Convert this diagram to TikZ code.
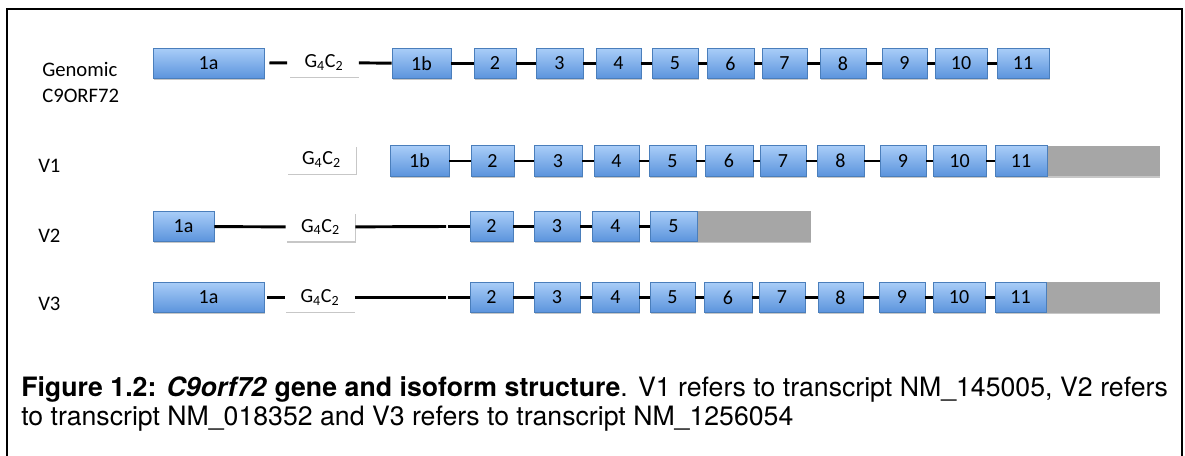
\documentclass[tikz,border=0pt]{standalone}
\usepackage{fontspec}
\setsansfont{TeX Gyre Heros}
\newfontfamily\calibri{Carlito}
\usetikzlibrary{shadows}
\definecolor{exontop}{HTML}{A9CDF8}
\definecolor{exonbot}{HTML}{5A93DC}
\definecolor{exonrim}{HTML}{4A7EBB}
\definecolor{utrgray}{HTML}{A6A6A6}
\tikzset{
	boxshadow/.style={drop shadow={shadow xshift=0.5pt,shadow yshift=-1.2pt,opacity=0.22,fill=black}},
	exon/.style={draw=exonrim,line width=0.6pt,top color=exontop,bottom color=exonbot,inner sep=0pt,minimum height=23pt,font=\calibri\fontsize{15}{17}\selectfont,boxshadow},
	repeatbox/.style={fill=white,inner sep=0pt,minimum height=21.5pt,minimum width=52pt,font=\calibri\fontsize{15}{17}\selectfont,boxshadow},
	utr/.style={fill=utrgray,inner sep=0pt,minimum height=23pt,boxshadow},
	intron/.style={line width=2.2pt},
	rowlabel/.style={anchor=base west,inner sep=0pt,font=\calibri\fontsize{15.5}{19.5}\selectfont,align=left}
}
\begin{document}
\begin{tikzpicture}[x=0.75pt,y=-0.75pt]
		\useasboundingbox (0,0) rectangle (1185,456) ;
		\draw[line width=0.8pt] (7,456) -- (7,9) -- (1182,9) -- (1182,456) ;
		% row labels
		\node[rowlabel] (lgen) at (42,103) {Genomic\\C9ORF72} ;
		\node[rowlabel] (lv1) at (38,173) {V1} ;
		\node[rowlabel] (lv2) at (38,242) {V2} ;
		\node[rowlabel] (lv3) at (38,310) {V3} ;
		% genomic
		\node[repeatbox] (gG) at (324,62.5) {G\textsubscript{4}C\textsubscript{2}} ;
		\foreach \Ex/\Xl/\Xr in {1a/153/264,1b/392/451,2/474/516,3/536/583,4/596/641,5/652/698,6/707/754,7/762/807,8/820/866,9/882/927,10/935/987,11/997/1049}
			\node[exon,minimum width=(\Xr-\Xl)*0.75pt] (g\Ex) at ({(\Xl+\Xr)/2},63.5) {\Ex} ;
		\draw[intron,shorten <=3.75pt,shorten >=1.5pt] (g1a) -- (gG) ;
		\draw[intron] (gG) -- (g1b) ;
		\foreach \A/\B in {1b/2,2/3,3/4,4/5,5/6,6/7,7/8,8/9,9/10,10/11} \draw[intron] (g\A) -- (g\B) ;
		% V1
		\node[repeatbox] (v1G) at (321.5,159.5) {G\textsubscript{4}C\textsubscript{2}} ;
		\foreach \Ex/\Xl/\Xr in {1b/390/449,2/471/514,3/534/582,4/594/639,5/649/696,6/705/753,7/760/806,8/817/864,9/880/926,10/933/986,11/995/1047}
			\node[exon,minimum width=(\Xr-\Xl)*0.75pt] (v1\Ex) at ({(\Xl+\Xr)/2},161) {\Ex} ;
		\node[utr,minimum width=84pt,anchor=west] (v1u) at (v111.east) {} ;
		\foreach \A/\B in {1b/2,2/3,3/4,4/5,5/6,6/7,7/8,8/9,9/10,10/11} \draw[intron] (v1\A) -- (v1\B) ;
		% V2
		\node[repeatbox] (v2G) at (320.5,227) {G\textsubscript{4}C\textsubscript{2}} ;
		\foreach \Ex/\Xl/\Xr in {1a/153/214,2/470/513,3/534/580,4/592/639,5/650/697}
			\node[exon,minimum width=(\Xr-\Xl)*0.75pt] (v2\Ex) at ({(\Xl+\Xr)/2},226.5) {\Ex} ;
		\node[utr,minimum width=84.75pt,anchor=west] (v2u) at (v25.east) {} ;
		\coordinate (v2k) at (447,226.5) ;
		\draw[intron] (v21a) -- (v2G) ;
		\draw[intron,shorten >=0.6pt] (v2G) -- (v2k) ;
		\draw[intron,shorten <=0.6pt] (v2k) -- (v22) ;
		\foreach \A/\B in {2/3,3/4,4/5} \draw[intron] (v2\A) -- (v2\B) ;
		% V3
		\node[repeatbox] (v3G) at (320,297.5) {G\textsubscript{4}C\textsubscript{2}} ;
		\foreach \Ex/\Xl/\Xr in {1a/153/264,2/470/513,3/534/580,4/592/639,5/650/695,6/704/752,7/759/805,8/818/863,9/879/925,10/933/985,11/995/1046}
			\node[exon,minimum width=(\Xr-\Xl)*0.75pt] (v3\Ex) at ({(\Xl+\Xr)/2},297.5) {\Ex} ;
		\node[utr,minimum width=84.75pt,anchor=west] (v3u) at (v311.east) {} ;
		\coordinate (v3k) at (447,297.5) ;
		\draw[intron,shorten <=2.25pt] (v31a) -- (v3G) ;
		\draw[intron,shorten >=0.6pt] (v3G) -- (v3k) ;
		\draw[intron,shorten <=0.6pt] (v3k) -- (v32) ;
		\foreach \A/\B in {2/3,3/4,4/5,5/6,6/7,7/8,8/9,9/10,10/11} \draw[intron] (v3\A) -- (v3\B) ;
		% caption
		\node[anchor=north west,inner sep=0pt,text width=860pt,align=justify,font=\sffamily\fontsize{20}{21.75}\selectfont] (caption) at (21,376)
			{\textbf{Figure 1.2: \textit{C9orf72} gene and isoform structure}. V1 refers to transcript NM\_145005, V2 refers\linebreak to transcript NM\_018352 and V3 refers to transcript NM\_1256054} ;
	\end{tikzpicture}
\end{document}
